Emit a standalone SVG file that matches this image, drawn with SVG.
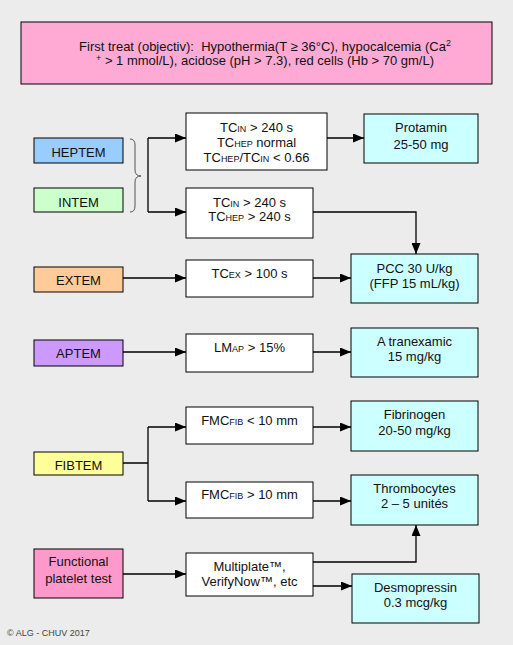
<svg xmlns="http://www.w3.org/2000/svg" width="513" height="645" viewBox="0 0 513 645">
<defs>
<marker id="ah" markerUnits="userSpaceOnUse" markerWidth="11" markerHeight="9" refX="11" refY="4.5" orient="auto">
<path d="M0,0 L11,4.5 L0,9 z" fill="#000"/>
</marker>
<style>
text{font-family:"Liberation Sans",Arial,sans-serif;font-size:13px;fill:#111;text-anchor:middle}
.b{stroke:#000;stroke-width:1}
.s{font-size:9px}
.c{fill:none;stroke:#000;stroke-width:1.3}
.a{marker-end:url(#ah)}
.t{fill:#ccffff}
.w{fill:#fff}
</style>
</defs>
<rect width="513" height="645" fill="#ececec"/>
<g id="header">
<rect class="b" x="21" y="22" width="471" height="62" fill="#ffaad4"/>
<text x="265" y="51">First treat (objectiv):&#160; Hypothermia(T ≥ 36°C), hypocalcemia (Ca<tspan class="s" dy="-5">2</tspan></text>
<text x="265" y="65"><tspan class="s" dy="-4">+</tspan><tspan dy="4"> &gt; 1 mmol/L), acidose (pH &gt; 7.3), red cells (Hb &gt; 70 gm/L)</tspan></text>
</g>
<g id="heptem"><rect class="b" x="34" y="138" width="89" height="25" fill="#99ccff"/><text x="78.5" y="156.5">HEPTEM</text></g>
<g id="intem"><rect class="b" x="34" y="188" width="89" height="24" fill="#ccffcc"/><text x="78.5" y="206.5">INTEM</text></g>
<g id="brace"><path d="M130,139 Q135,139 135,145 L135,170 Q135,176 141,176 Q135,176 135,182 L135,206 Q135,212 130,212" fill="none" stroke="#555" stroke-width="1"/></g>
<g id="cond-in1"><rect class="b w" x="186" y="113" width="141" height="57"/>
<text x="256.5" y="132.3">TC<tspan class="s">IN</tspan> &gt; 240 s</text>
<text x="256.5" y="146.7">TC<tspan class="s">HEP</tspan> normal</text>
<text x="256.5" y="161.7">TC<tspan class="s">HEP</tspan>/TC<tspan class="s">IN</tspan> &lt; 0.66</text></g>
<g id="protamin"><rect class="b t" x="364" y="114" width="114" height="49"/><text x="421" y="132.3">Protamin</text><text x="421" y="149.3">25-50 mg</text></g>
<g id="cond-in2"><rect class="b w" x="186" y="188" width="127" height="50"/>
<text x="249.5" y="206.7">TC<tspan class="s">IN</tspan> &gt; 240 s</text>
<text x="249.5" y="221">TC<tspan class="s">HEP</tspan> &gt; 240 s</text></g>
<g id="extem"><rect class="b" x="34" y="267" width="89" height="25" fill="#ffcc99"/><text x="78.5" y="285">EXTEM</text></g>
<g id="cond-ex"><rect class="b w" x="186" y="260" width="127" height="37"/><text x="249.5" y="278.3">TC<tspan class="s">EX</tspan> &gt; 100 s</text></g>
<g id="pcc"><rect class="b t" x="351" y="254" width="127" height="49"/><text x="414.5" y="273.3">PCC 30 U/kg</text><text x="414.5" y="288.3">(FFP 15 mL/kg)</text></g>
<g id="aptem"><rect class="b" x="34" y="340" width="89" height="26" fill="#cc99ff"/><text x="78.5" y="358.3">APTEM</text></g>
<g id="cond-ap"><rect class="b w" x="186" y="334" width="127" height="38"/><text x="249.5" y="351.7">LM<tspan class="s">AP</tspan> &gt; 15%</text></g>
<g id="tranexamic"><rect class="b t" x="351" y="328" width="127" height="49"/><text x="414.5" y="345.7">A tranexamic</text><text x="414.5" y="361">15 mg/kg</text></g>
<g id="fibtem"><rect class="b" x="34" y="452" width="89" height="23" fill="#ffff99"/><text x="78.5" y="470">FIBTEM</text></g>
<g id="cond-fib1"><rect class="b w" x="186" y="407" width="127" height="37"/><text x="249.5" y="425">FMC<tspan class="s">FIB</tspan> &lt; 10 mm</text></g>
<g id="fibrinogen"><rect class="b t" x="351" y="401" width="127" height="50"/><text x="414.5" y="419.3">Fibrinogen</text><text x="414.5" y="435">20-50 mg/kg</text></g>
<g id="cond-fib2"><rect class="b w" x="186" y="482" width="127" height="36"/><text x="249.5" y="499.3">FMC<tspan class="s">FIB</tspan> &gt; 10 mm</text></g>
<g id="thrombocytes"><rect class="b t" x="351" y="475" width="127" height="50"/><text x="414.5" y="493.3">Thrombocytes</text><text x="414.5" y="508.3">2 – 5 unités</text></g>
<g id="functional"><rect class="b" x="34" y="549" width="89" height="49" fill="#ff99cc"/><text x="78.5" y="566">Functional</text><text x="78.5" y="583.3">platelet test</text></g>
<g id="multiplate"><rect class="b w" x="186" y="553" width="127" height="43"/><text x="249.5" y="571">Multiplate™,</text><text x="249.5" y="585.7">VerifyNow™, etc</text></g>
<g id="desmopressin"><rect class="b t" x="352" y="574" width="127" height="49"/><text x="415.5" y="591.7">Desmopressin</text><text x="415.5" y="606.7">0.3 mcg/kg</text></g>
<g id="connectors">
<path class="c" d="M148,138 L148,212"/>
<path class="c a" d="M148,138 L186,138"/>
<path class="c a" d="M148,212 L186,212"/>
<path class="c a" d="M327,138 L364,138"/>
<path class="c a" d="M313,212 L416,212 L416,254"/>
<path class="c a" d="M123,278 L186,278"/>
<path class="c a" d="M313,278 L351,278"/>
<path class="c a" d="M123,352 L186,352"/>
<path class="c a" d="M313,352 L351,352"/>
<path class="c" d="M123,463 L148,463 M148,427 L148,501"/>
<path class="c a" d="M148,427 L186,427"/>
<path class="c a" d="M148,501 L186,501"/>
<path class="c a" d="M313,427 L351,427"/>
<path class="c a" d="M313,501 L351,501"/>
<path class="c a" d="M123,574 L186,574"/>
<path class="c a" d="M313,562 L416,562 L416,525"/>
<path class="c a" d="M313,586 L352,586"/>
</g>
<text x="7" y="636" style="font-size:9px;fill:#444;text-anchor:start">© ALG - CHUV 2017</text>
</svg>
